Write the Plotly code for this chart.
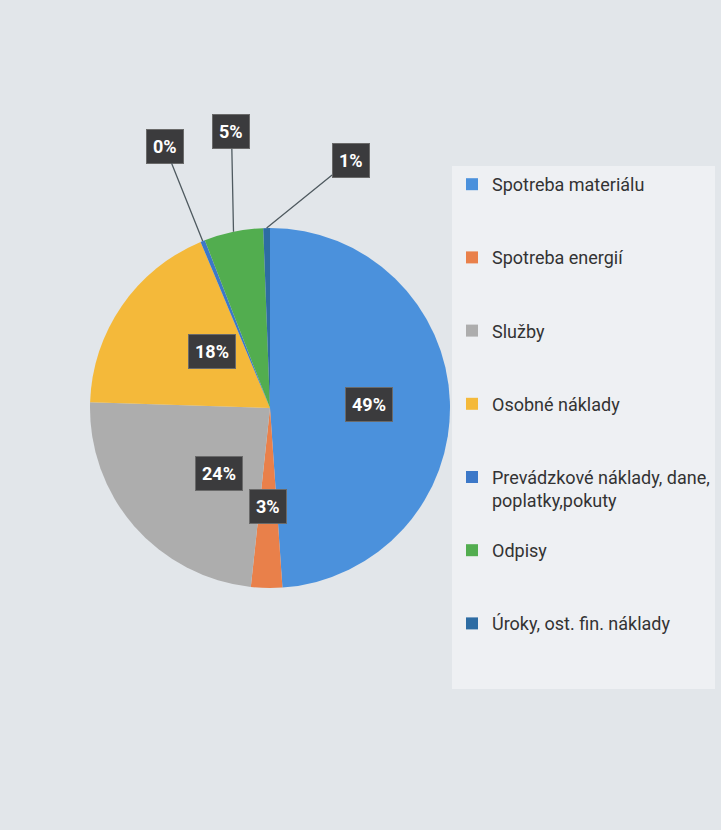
import math
import plotly.graph_objects as go

# ---- data ----
categories = [
    "Spotreba materiálu",
    "Spotreba energií",
    "Služby",
    "Osobné náklady",
    "Prevádzkové náklady, dane,<br>poplatky,pokuty",
    "Odpisy",
    "Úroky, ost. fin. náklady",
]
values = [48.9, 2.8, 23.8, 18.2, 0.4, 5.3, 0.6]
colors = ["#4b91dc", "#e9804a", "#adadad", "#f4b93a", "#3c78c8", "#52ad4f", "#2d6ca3"]

# ---- layout constants ----
W, H = 721, 830
CX, CY, R = 270, 408, 180          # pie centre / radius in px
FONT = "Roboto, Open Sans, sans-serif"

# label placement style: inside (radius fraction) or outside (pixel offset of label box)
label_style = ["in", "in", "in", "in", "out", "out", "out"]
outside_offsets = {4: (-38, -95), 5: (-2, -100), 6: (84, -68)}

total = sum(values)
pct_text = [f"{round(v / total * 100):d}%" for v in values]

# legend labels padded with blank lines for Excel-like spacing
legend_labels = []
for c in categories:
    n = c.count("<br>") + 1
    legend_labels.append(c + "<br> " * (3 - n))

fig = go.Figure(
    go.Pie(
        labels=legend_labels,
        values=values,
        sort=False,
        direction="clockwise",
        rotation=0,
        marker=dict(colors=colors, line=dict(width=0)),
        textinfo="none",
        hoverinfo="skip",
        domain=dict(
            x=[(CX - R) / W, (CX + R) / W],
            y=[1 - (CY + R) / H, 1 - (CY - R) / H],
        ),
    )
)

annotations = []
cum = 0.0
for i, v in enumerate(values):
    mid = cum + v / 2
    cum += v
    ang = math.radians(90 - 360 * mid / total)
    common = dict(
        xref="paper", yref="paper",
        text=f"<b>{pct_text[i]}</b>",
        font=dict(family=FONT, size=18, color="white"),
        bgcolor="#3b3b3d", bordercolor="#6a6a6a", borderwidth=1, borderpad=6,
    )
    if label_style[i] == "in":
        px = CX + 0.55 * R * math.cos(ang)
        py = CY - 0.55 * R * math.sin(ang)
        annotations.append(dict(x=px / W, y=1 - py / H, showarrow=False, **common))
    else:
        px = CX + R * math.cos(ang)
        py = CY - R * math.sin(ang)
        ax, ay = outside_offsets[i]
        annotations.append(dict(
            x=px / W, y=1 - py / H, showarrow=True,
            arrowhead=0, arrowwidth=1.3, arrowcolor="#4f5a60", standoff=0,
            ax=ax, ay=ay, **common,
        ))

fig.update_layout(
    width=W, height=H,
    margin=dict(l=0, r=0, t=0, b=0, autoexpand=False),
    paper_bgcolor="#e2e6ea",
    plot_bgcolor="#e2e6ea",
    annotations=annotations,
    showlegend=True,
    legend=dict(
        x=452 / W, y=1 - 166 / H, xanchor="left", yanchor="top",
        bgcolor="#eef0f3", borderwidth=0,
        font=dict(family=FONT, size=18, color="#333333"),
        valign="top", traceorder="normal",
        itemwidth=30,
    ),
    font=dict(family=FONT),
)

fig.write_html("out.html")
